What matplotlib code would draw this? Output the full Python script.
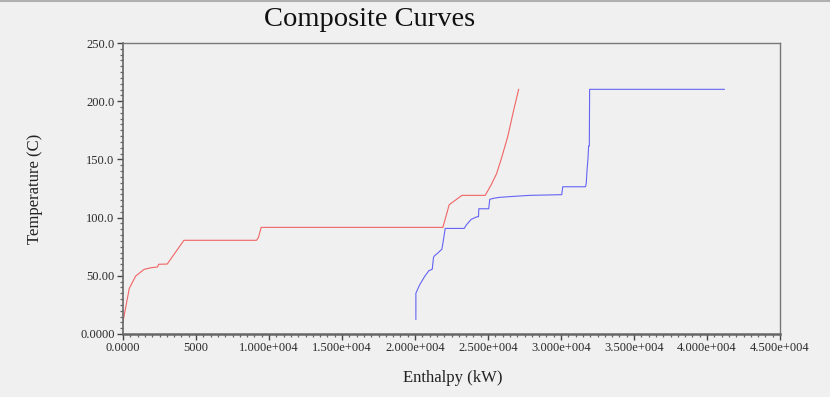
import matplotlib
matplotlib.use("Agg")
import matplotlib.pyplot as plt
from matplotlib.ticker import MultipleLocator, FixedLocator

# hot composite curve (kW, C)
hot_h = [0, 431, 868, 1457, 1960, 2373, 2440, 3030, 4172, 9144, 9280, 9462,
         21910, 22340, 23210, 24810, 25210, 25580, 25900, 26350, 26760, 27100]
hot_t = [10.6, 39.2, 49.8, 55.6, 57.0, 57.6, 59.9, 60.1, 80.5, 80.5, 83.0, 91.6,
         91.6, 111.0, 119.1, 119.1, 128.0, 137.5, 150.0, 169.5, 192.4, 210.2]

# cold composite curve
cold_h = [20060, 20060, 20310, 20650, 20950, 21180, 21270, 21320, 21540, 21840,
          21910, 22070, 23370, 23510, 23850, 24260, 24350, 24370, 25050, 25120,
          25390, 25780, 26470, 27840, 30050, 30120, 31670, 31690, 31730, 31780,
          31850, 31890, 31940, 31960, 41190]
cold_t = [12.6, 35.0, 42.0, 49.2, 54.4, 55.6, 65.9, 67.0, 69.3, 72.8,
          77.9, 90.7, 90.7, 93.6, 98.5, 100.8, 100.8, 107.6, 107.6, 115.7,
          116.6, 117.4, 118.0, 119.1, 119.7, 126.5, 126.5, 127.0, 129.4, 140.3,
          150.9, 161.5, 161.5, 210.2, 210.2]

x_ticks = [0, 5000, 10000, 15000, 20000, 25000, 30000, 35000, 40000, 45000]
x_labels = ["0.0000", "5000", "1.000e+004", "1.500e+004", "2.000e+004",
            "2.500e+004", "3.000e+004", "3.500e+004", "4.000e+004", "4.500e+004"]
y_ticks = [0, 50, 100, 150, 200, 250]
y_labels = ["0.0000", "50.00", "100.0", "150.0", "200.0", "250.0"]

bg = "#f0f0f0"
serif = ["Liberation Serif", "DejaVu Serif"]

fig = plt.figure(figsize=(8.3, 3.97), dpi=100, facecolor=bg)
ax = fig.add_axes([123/830, 1 - 334/397, 657/830, 291/397], facecolor=bg)

ax.plot(hot_h, hot_t, color="#f06464", lw=0.8)
ax.plot(cold_h, cold_t, color="#6464f5", lw=0.8)

ax.set_xlim(0, 45000)
ax.set_ylim(0, 250)
ax.xaxis.set_major_locator(FixedLocator(x_ticks))
ax.set_xticklabels(x_labels)
ax.xaxis.set_minor_locator(MultipleLocator(500))
ax.yaxis.set_major_locator(FixedLocator(y_ticks))
ax.set_yticklabels(y_labels)
ax.yaxis.set_minor_locator(MultipleLocator(5))

ax.tick_params(which="major", direction="out", length=4, width=1.0, color="#444444",
               labelsize=9, labelcolor="#2a2a2a", pad=2)
ax.tick_params(which="minor", direction="out", length=2.5, width=0.9, color="#666666")
for lab in ax.get_xticklabels() + ax.get_yticklabels():
    lab.set_family(serif)

for side in ["top", "right"]:
    ax.spines[side].set_color("#777777")
    ax.spines[side].set_linewidth(1.0)
ax.spines["bottom"].set_color("#666666")
ax.spines["bottom"].set_linewidth(1.8)
ax.spines["left"].set_color("#666666")
ax.spines["left"].set_linewidth(1.2)

fig.text(370/830, 1 - 19/397, "Composite Curves", ha="center", va="center",
         fontsize=20.5, family=serif, color="#111111")
fig.text(453/830, 1 - 378/397, "Enthalpy (kW)", ha="center", va="center",
         fontsize=12, family=serif, color="#222222")
fig.text(35/830, 1 - 189/397, "Temperature (C)", ha="center", va="center",
         rotation=90, fontsize=12, family=serif, color="#222222")

# thin grey border at the top of the window
fig.add_artist(plt.Line2D([0, 1], [0.997, 0.997], transform=fig.transFigure,
                          color="#b0b0b0", lw=1.5))

fig.savefig("out.png", dpi=100, facecolor=bg)
